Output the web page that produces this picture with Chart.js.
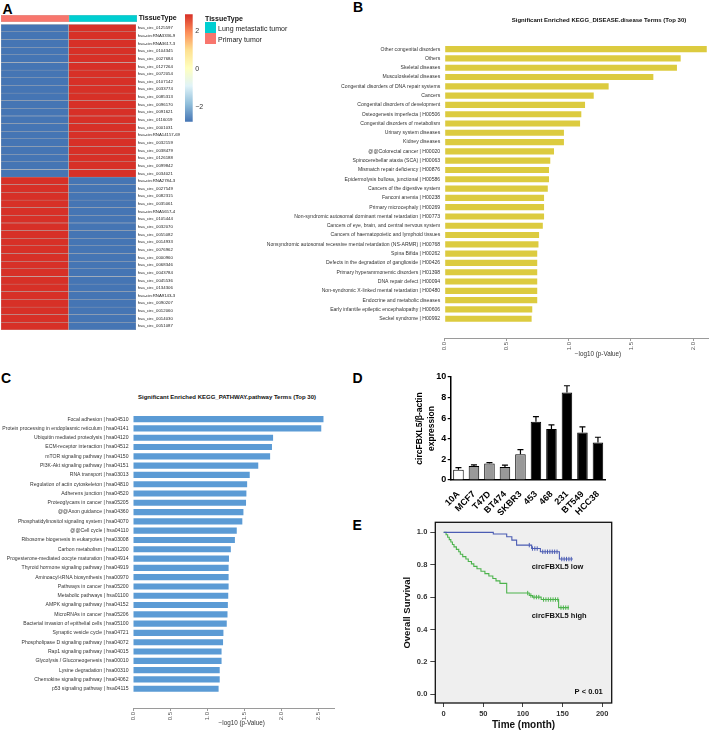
<!DOCTYPE html>
<html><head><meta charset="utf-8">
<script src="https://cdn.jsdelivr.net/npm/chart.js@4.4.1/dist/chart.umd.min.js"></script>
<style>
html,body{margin:0;padding:0;background:#fff;}
body{width:709px;height:731px;overflow:hidden;position:relative;font-family:"Liberation Sans",Arial,Helvetica,sans-serif;}
canvas{position:absolute;}
.t{position:absolute;white-space:nowrap;line-height:1;transform:translate(-50%,-50%);}
.tl{position:absolute;white-space:nowrap;line-height:1;transform:translate(0,-50%);}
.lab{position:absolute;font-weight:bold;font-size:14px;line-height:1;color:#000;}
.key{position:absolute;width:10.5px;height:10.5px;}
</style></head><body>
<div class="lab" style="left:2.5px;top:1.5px">A</div>
<div class="lab" style="left:353px;top:0px">B</div>
<div class="lab" style="left:1px;top:371px">C</div>
<div class="lab" style="left:352.5px;top:371px">D</div>
<div class="lab" style="left:352.5px;top:518px">E</div>

<canvas id="cAnno" width="200" height="9" style="left:0;top:14px"></canvas>
<canvas id="cHeat" width="200" height="306" style="left:0;top:24px"></canvas>
<canvas id="cBar" width="30" height="116" style="left:181px;top:10px"></canvas>
<div class="tl" style="left:205px;top:17.5px;font-weight:bold;font-size:7px;color:#111">TissueType</div>
<div class="key" style="left:205px;top:22px;background:#00CED1"></div>
<div class="key" style="left:205px;top:33px;background:#F8766D"></div>
<div class="tl" style="left:218px;top:28px;font-size:7px;color:#222">Lung metastatic tumor</div>
<div class="tl" style="left:218px;top:38.5px;font-size:7px;color:#222">Primary tumor</div>

<canvas id="cB" width="459" height="328" style="left:250px;top:30px"></canvas>
<div class="t" style="left:599px;top:20px;font-weight:bold;font-size:6px;color:#111">Significant Enriched KEGG_DISEASE.disease Terms (Top 30)</div>
<div class="t" style="left:598px;top:354px;font-size:6.3px;color:#333">−log10 (p-Value)</div>

<canvas id="cC" width="336" height="328" style="left:0;top:400px"></canvas>
<div class="t" style="left:227px;top:396.7px;font-weight:bold;font-size:6px;color:#111">Significant Enriched KEGG_PATHWAY.pathway Terms (Top 30)</div>
<div class="t" style="left:241.7px;top:723.3px;font-size:6.3px;color:#333">−log10 (p-Value)</div>

<canvas id="cD" width="200" height="145" style="left:414px;top:370px"></canvas>
<canvas id="cE" width="215" height="216" style="left:402px;top:515px"></canvas>

<script>
// ---------------- DATA ----------------
// Panel A: heatmap
const circRNAs = ['hsa_circ_0125597','hsa-circRNA3336-9','hsa-circRNA3617-3','hsa_circ_0104345','hsa_circ_0027684','hsa_circ_0127264','hsa_circ_0072054','hsa_circ_0107142','hsa_circ_0033774','hsa_circ_0085313','hsa_circ_0096170','hsa_circ_0091621','hsa_circ_0116019','hsa_circ_0001031','hsa-circRNA14157-69','hsa_circ_0032159','hsa_circ_0038479','hsa_circ_0126188','hsa_circ_0099842','hsa_circ_0034021',
'hsa-circRNA2784-3','hsa_circ_0027549','hsa_circ_0082315','hsa_circ_0035061','hsa-circRNA5657-4','hsa_circ_0105444','hsa_circ_0032070','hsa_circ_0055082','hsa_circ_0014933','hsa_circ_0076962','hsa_circ_0000960','hsa_circ_0068346','hsa_circ_0043784','hsa_circ_0045536','hsa_circ_0134306','hsa-circRNA9143-3','hsa_circ_0090207','hsa_circ_0012060','hsa_circ_0014030','hsa_circ_0051087'];
const primaryExpr = [-2.79,-2.79,-2.79,-2.79,-2.79,-2.79,-2.79,-2.79,-2.79,-2.79,-2.79,-2.79,-2.79,-2.79,-2.79,-2.79,-2.79,-2.79,-2.79,-2.79,
 2.87,2.87,2.87,2.87,2.87,2.87,2.87,2.87,2.87,2.87,2.87,2.87,2.87,2.87,2.87,2.87,2.87,2.87,2.87,2.87];
const metastaticExpr = [2.87,2.87,2.87,2.87,2.87,2.87,2.87,2.87,2.87,2.87,2.87,2.87,2.87,2.87,2.87,2.87,2.87,2.87,2.87,2.87,
 -2.79,-2.79,-2.79,-2.79,-2.79,-2.79,-2.79,-2.79,-2.79,-2.79,-2.79,-2.79,-2.79,-2.79,-2.79,-2.79,-2.79,-2.79,-2.79,-2.79];
const tissueGroups = ['Primary tumor','Lung metastatic tumor'];
const legendTicks = [-2, 0, 2];

// Panel B
const diseaseTerms = ['Other congenital disorders','Others','Skeletal diseases','Musculoskeletal diseases','Congenital disorders of DNA repair systems','Cancers','Congenital disorders of development','Osteogenesis imperfecta | H00506','Congenital disorders of metabolism','Urinary system diseases','Kidney diseases','@@Colorectal cancer | H00020','Spinocerebellar ataxia (SCA) | H00063','Mismatch repair deficiency | H00876','Epidermolysis bullosa, junctional | H00586','Cancers of the digestive system','Fanconi anemia | H00238','Primary microcephaly | H00269','Non-syndromic autosomal dominant mental retardation | H00773','Cancers of eye, brain, and central nervous system','Cancers of haematopoietic and lymphoid tissues','Nonsyndromic autosomal recessive mental retardation (NS-ARMR) | H00768','Spina Bifida | H00262','Defects in the degradation of ganglioside | H00426','Primary hyperammonemic disorders | H01398','DNA repair defect | H00094','Non-syndromic X-linked mental retardation | H00480','Endocrine and metabolic diseases','Early infantile epileptic encephalopathy | H00606','Seckel syndrome | H00992'];
const diseaseScores = [2.11,1.90,1.87,1.68,1.32,1.20,1.13,1.10,1.09,0.96,0.96,0.88,0.85,0.84,0.84,0.83,0.80,0.80,0.80,0.79,0.76,0.755,0.745,0.745,0.745,0.745,0.745,0.745,0.705,0.70];
const diseaseAxisTicks = [0, 0.5, 1.0, 1.5, 2.0];

// Panel C
const pathwayTerms = ['Focal adhesion | hsa04510','Protein processing in endoplasmic reticulum | hsa04141','Ubiquitin mediated proteolysis | hsa04120','ECM-receptor interaction | hsa04512','mTOR signaling pathway | hsa04150','PI3K-Akt signaling pathway | hsa04151','RNA transport | hsa03013','Regulation of actin cytoskeleton | hsa04810','Adherens junction | hsa04520','Proteoglycans in cancer | hsa05205','@@Axon guidance | hsa04360','Phosphatidylinositol signaling system | hsa04070','@@Cell cycle | hsa04110','Ribosome biogenesis in eukaryotes | hsa03008','Carbon metabolism | hsa01200','Progesterone-mediated oocyte maturation | hsa04914','Thyroid hormone signaling pathway | hsa04919','Aminoacyl-tRNA biosynthesis | hsa00970','Pathways in cancer | hsa05200','Metabolic pathways | hsa01100','AMPK signaling pathway | hsa04152','MicroRNAs in cancer | hsa05206','Bacterial invasion of epithelial cells | hsa05100','Synaptic vesicle cycle | hsa04721','Phospholipase D signaling pathway | hsa04072','Rap1 signaling pathway | hsa04015','Glycolysis / Gluconeogenesis | hsa00010','Lysine degradation | hsa00310','Chemokine signaling pathway | hsa04062','p53 signaling pathway | hsa04115'];
const pathwayScores = [2.57,2.54,1.89,1.875,1.85,1.69,1.575,1.54,1.53,1.525,1.49,1.475,1.40,1.375,1.32,1.295,1.29,1.29,1.29,1.285,1.28,1.275,1.265,1.22,1.215,1.195,1.195,1.17,1.17,1.155];
const pathwayAxisTicks = [0, 0.5, 1.0, 1.5, 2.0, 2.5];

// Panel D
const cellLines = ['10A','MCF7','T47D','BT474','SKBR3','453','468','231','BT549','HCC38'];
const cellExpr = [1.0,1.35,1.6,1.27,2.5,5.65,4.95,8.5,4.6,3.65];
const cellErr  = [0.2,0.12,0.08,0.18,0.45,0.5,0.4,0.65,0.55,0.5];
const exprTicks = [0,2,4,6,8,10];

// Panel E
const lowTimes = [0,62.6,79.5,86,92,111,122,146,163];
const lowSurv  = [1.0,0.99,0.973,0.952,0.921,0.90,0.88,0.835,0.835];
const lowCensorTimes = [108,112,115,118,125,128,131,134,137,140,143,149,152,155,158,161];
const lowCensorSurv  = [0.921,0.90,0.90,0.90,0.88,0.88,0.88,0.88,0.88,0.88,0.88,0.835,0.835,0.835,0.835,0.835];
const highTimes = [0,3,5,7,9,11,13,16,19,21,24,28,31,35,38,42,47,52,57,62,66,71,79.5,108,112,123,145,158];
const highSurv  = [1.0,0.985,0.97,0.955,0.94,0.925,0.91,0.895,0.88,0.865,0.85,0.835,0.82,0.805,0.79,0.775,0.76,0.745,0.73,0.715,0.70,0.685,0.625,0.61,0.60,0.585,0.535,0.535];
const highCensorTimes = [106,110,114,117,120,126,129,132,135,138,141,144,148,151,154,157];
const highCensorSurv  = [0.625,0.61,0.60,0.60,0.60,0.585,0.585,0.585,0.585,0.585,0.585,0.585,0.535,0.535,0.535,0.535];
const timeTicks = [0,50,100,150,200];
const survTicks = [0,0.2,0.4,0.6,0.8,1.0];
const survNotes = [
  {text:'circFBXL5 low', t:111, s:0.784, align:'left'},
  {text:'circFBXL5 high', t:111, s:0.482, align:'left'},
  {text:'P < 0.01', t:200.7, s:0.012, align:'right'}
];

// ---------------- HELPERS ----------------
const FONT = '"Liberation Sans", Arial, Helvetica, sans-serif';
Chart.defaults.font.family = FONT;
Chart.defaults.animation = false;
Chart.defaults.plugins.legend.display = false;
Chart.defaults.plugins.tooltip.enabled = false;
Chart.defaults.events = [];

function fit(w, h) {
  return s => {
    if (w != null) s.width = w;
    if (h != null) s.height = h;
    s.paddingTop = 0; s.paddingBottom = 0; s.paddingLeft = 0; s.paddingRight = 0;
  };
}
function ticksAt(vals) { return s => { s.ticks = vals.map(v => ({ value: v })); }; }

const rampStops = ['#4575B4','#91BFDB','#E0F3F8','#FFFFBF','#FEE090','#FC8D59','#D73027'];
function hexRgb(h){ return [parseInt(h.slice(1,3),16), parseInt(h.slice(3,5),16), parseInt(h.slice(5,7),16)]; }
const allVals = primaryExpr.concat(metastaticExpr);
const vMin = Math.min(...allVals), vMax = Math.max(...allVals);
function rampColor(v) {
  let t = (v - vMin) / (vMax - vMin); t = Math.max(0, Math.min(1, t));
  const p = t * (rampStops.length - 1);
  const i = Math.min(Math.floor(p), rampStops.length - 2);
  const f = p - i;
  const a = hexRgb(rampStops[i]), b = hexRgb(rampStops[i+1]);
  return 'rgb(' + a.map((c,k) => Math.round(c + (b[k]-c)*f)).join(',') + ')';
}
const baseOpts = { responsive:false, devicePixelRatio:1, animation:false };

// ---------------- A: annotation bar ----------------
new Chart(document.getElementById('cAnno'), {
  type:'bar',
  data:{ labels:['TissueType'], datasets:[
    { label:tissueGroups[0], data:[[0,1]], backgroundColor:'#F8766D', borderColor:'#b0b0b0', borderWidth:0.5, borderSkipped:false, grouped:false, barPercentage:1, categoryPercentage:1 },
    { label:tissueGroups[1], data:[[1,2]], backgroundColor:'#00CED1', borderColor:'#b0b0b0', borderWidth:0.5, borderSkipped:false, grouped:false, barPercentage:1, categoryPercentage:1 }
  ]},
  options:{ ...baseOpts, indexAxis:'y', layout:{padding:{left:1, top:1, bottom:1, right:0}},
    scales:{
      x:{ type:'linear', display:false, min:0, max:2 },
      y:{ position:'right', grid:{display:false, drawTicks:false}, border:{display:false},
          ticks:{ font:{size:7, weight:'bold'}, color:'#111', padding:1.7 }, afterFit: fit(63, null) }
    } }
});

// ---------------- A: heatmap ----------------
new Chart(document.getElementById('cHeat'), {
  type:'bar',
  data:{ labels: circRNAs, datasets:[
    { label:tissueGroups[0], data: primaryExpr.map(() => [0,1]), backgroundColor: primaryExpr.map(rampColor), borderColor:'#b4b4b4', borderWidth:0.5, borderSkipped:false, grouped:false, barPercentage:1, categoryPercentage:1 },
    { label:tissueGroups[1], data: metastaticExpr.map(() => [1,2]), backgroundColor: metastaticExpr.map(rampColor), borderColor:'#b4b4b4', borderWidth:0.5, borderSkipped:false, grouped:false, barPercentage:1, categoryPercentage:1 }
  ]},
  options:{ ...baseOpts, indexAxis:'y', layout:{padding:{left:1, top:0.3, bottom:0, right:0}},
    scales:{
      x:{ type:'linear', display:false, min:0, max:2 },
      y:{ position:'right', grid:{display:false, drawTicks:false}, border:{display:false},
          ticks:{ font:{size:4.3}, color:'#222', padding:1.7, autoSkip:false }, afterFit: fit(64, null) }
    } }
});

// ---------------- A: colour bar ----------------
new Chart(document.getElementById('cBar'), {
  type:'bar',
  data:{ labels:[''], datasets:[{ data:[[vMin, vMax]], borderWidth:0, barPercentage:1, categoryPercentage:1,
    backgroundColor: c => {
      const a = c.chart.chartArea; if (!a) return '#fff';
      const g = c.chart.ctx.createLinearGradient(0, a.bottom, 0, a.top);
      rampStops.forEach((col, i) => g.addColorStop(i / (rampStops.length - 1), col));
      return g;
    } }]},
  options:{ ...baseOpts, layout:{padding:{left:4, top:4.3, bottom:4.3, right:0}},
    scales:{
      x:{ display:false },
      y:{ position:'right', min:vMin, max:vMax, afterBuildTicks: ticksAt(legendTicks),
          ticks:{ callback: v => String(v).replace('-', '−'), font:{size:7}, color:'#333', padding:2.5 },
          grid:{display:false, drawTicks:false}, border:{display:false}, afterFit: fit(18.3, null) }
    } }
});

// ---------------- B / C horizontal enrichment bars ----------------
function enrichChart(id, terms, scores, color, xMax, axisTicks, yWidth, padRight) {
  new Chart(document.getElementById(id), {
    type:'bar',
    data:{ datasets:[{ data: scores.map((v, i) => ({ x: v, y: i })), backgroundColor: color, borderWidth:0, barPercentage:0.66, categoryPercentage:1 }]},
    options:{ ...baseOpts, indexAxis:'y', layout:{padding:{top:9.5, right:padRight, left:0, bottom:0}},
      scales:{
        x:{ type:'linear', min:0, max:xMax, afterBuildTicks: ticksAt(axisTicks),
            ticks:{ callback: v => v.toFixed(1), minRotation:90, maxRotation:90, font:{size:6}, color:'#555', padding:1 },
            grid:{ drawOnChartArea:false, tickLength:3, color:'#9a9a9a' }, border:{ color:'#9a9a9a', width:1 },
            afterFit: fit(null, 20) },
        y:{ type:'linear', reverse:true, min:-0.5, max:30.54, afterBuildTicks: ticksAt(terms.map((_, i) => i)),
            ticks:{ callback: v => terms[v], font:{size:5.1}, color:'#333', padding:4.5, autoSkip:false },
            grid:{ display:false, drawTicks:false }, border:{ display:false }, afterFit: fit(yWidth, null) }
      } }
  });
}
enrichChart('cB', diseaseTerms, diseaseScores, '#dccb3f', 2.12, diseaseAxisTicks, 194.7, 1);
enrichChart('cC', pathwayTerms, pathwayScores, '#5b9bd5', 2.716, pathwayAxisTicks, 133, 1.7);

// ---------------- D: expression bars ----------------
const dFill = ['#ffffff','#999999','#999999','#999999','#999999','#000000','#000000','#000000','#000000','#000000'];
const errorBars = { id:'errorBars', afterDatasetsDraw(chart) {
  const meta = chart.getDatasetMeta(0), y = chart.scales.y, ctx = chart.ctx;
  ctx.save(); ctx.strokeStyle = '#000'; ctx.lineWidth = 1.2;
  meta.data.forEach((bar, i) => {
    const top = y.getPixelForValue(cellExpr[i] + cellErr[i]);
    ctx.beginPath(); ctx.moveTo(bar.x, bar.y); ctx.lineTo(bar.x, top);
    ctx.moveTo(bar.x - 3, top); ctx.lineTo(bar.x + 3, top); ctx.stroke();
  });
  ctx.restore();
} };
new Chart(document.getElementById('cD'), {
  type:'bar',
  data:{ labels: cellLines, datasets:[{ data: cellExpr, backgroundColor: dFill, borderColor:'#000', borderWidth:1, barPercentage:0.68, categoryPercentage:1 }]},
  options:{ ...baseOpts, layout:{padding:{top:7, right:8.3, left:0, bottom:0}},
    scales:{
      x:{ grid:{display:false}, border:{color:'#000', width:1.5},
          ticks:{ minRotation:45, maxRotation:45, font:{size:9, weight:'bold'}, color:'#000', padding:1, autoSkip:false },
          afterFit: fit(null, 35) },
      y:{ min:0, max:10, afterBuildTicks: ticksAt(exprTicks),
          grid:{ drawOnChartArea:false, tickLength:3, color:'#000', lineWidth:1.2 }, border:{color:'#000', width:1.5},
          ticks:{ font:{size:9, weight:'bold'}, color:'#000', padding:1.5 },
          title:{ display:true, text:['circFBXL5/β-actin','expression'], font:{size:8.5, weight:'bold', lineHeight:1.4}, color:'#000', padding:0 },
          afterFit: fit(36.7, null) }
    } },
  plugins:[errorBars]
});

// ---------------- E: survival ----------------
const survBox = { id:'survBox',
  beforeDatasetsDraw(chart) { const {ctx, chartArea:a} = chart; ctx.save(); ctx.fillStyle = '#efefef'; ctx.fillRect(a.left, a.top, a.width, a.height); ctx.restore(); },
  afterDatasetsDraw(chart) {
    const {ctx, chartArea:a, scales:{x, y}} = chart;
    ctx.save(); ctx.strokeStyle = '#111'; ctx.lineWidth = 1.3; ctx.strokeRect(a.left, a.top, a.width, a.height);
    ctx.fillStyle = '#111'; ctx.font = 'bold 7.5px ' + FONT; ctx.textBaseline = 'middle';
    survNotes.forEach(n => { ctx.textAlign = n.align; ctx.fillText(n.text, x.getPixelForValue(n.t), y.getPixelForValue(n.s)); });
    ctx.restore();
  } };
const LOW = '#4b5cb3', HIGH = '#4cb34c';
new Chart(document.getElementById('cE'), {
  type:'line',
  data:{ datasets:[
    { label:'circFBXL5 low', data: lowTimes.map((t, i) => ({x:t, y:lowSurv[i]})), borderColor:LOW, borderWidth:1.1, stepped:'before', pointRadius:0, fill:false },
    { label:'circFBXL5 high', data: highTimes.map((t, i) => ({x:t, y:highSurv[i]})), borderColor:HIGH, borderWidth:1.1, stepped:'before', pointRadius:0, fill:false },
    { label:'low censored', data: lowCensorTimes.map((t, i) => ({x:t, y:lowCensorSurv[i]})), showLine:false, pointStyle:'line', rotation:90, pointRadius:2.2, borderColor:LOW, borderWidth:1 },
    { label:'high censored', data: highCensorTimes.map((t, i) => ({x:t, y:highCensorSurv[i]})), showLine:false, pointStyle:'line', rotation:90, pointRadius:2.2, borderColor:HIGH, borderWidth:1 }
  ]},
  options:{ ...baseOpts, layout:{padding:{top:7.3, right:5.3, left:0, bottom:0}},
    scales:{
      x:{ type:'linear', min:-10.6, max:212, afterBuildTicks: ticksAt(timeTicks),
          grid:{ drawOnChartArea:false, tickLength:4, color:'#444' }, border:{display:false},
          ticks:{ font:{size:7.5, weight:'bold'}, color:'#333', padding:2, maxRotation:0 },
          title:{ display:true, text:'Time (month)', font:{size:10, weight:'bold'}, color:'#111', padding:0 },
          afterFit: fit(null, 28) },
      y:{ type:'linear', min:-0.054, max:1.062, afterBuildTicks: ticksAt(survTicks),
          grid:{ drawOnChartArea:false, tickLength:5, color:'#444' }, border:{display:false},
          ticks:{ callback: v => v.toFixed(1), font:{size:7.5, weight:'bold'}, color:'#333', padding:3 },
          title:{ display:true, text:'Overall Survival', font:{size:9.5, weight:'bold'}, color:'#111', padding:0 },
          afterFit: fit(33.3, null) }
    } },
  plugins:[survBox]
});
</script>
</body></html>
